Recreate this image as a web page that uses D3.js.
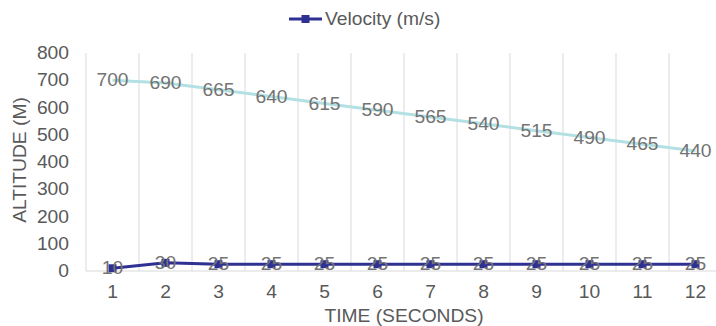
<!DOCTYPE html>
<html>
<head>
<meta charset="utf-8">
<script src="https://cdn.jsdelivr.net/npm/d3@7"></script>
<style>
  html, body { margin: 0; padding: 0; background: #fff; }
  svg { display: block; font-family: "Liberation Sans", Arial, sans-serif; }
</style>
</head>
<body>
<svg id="chart" width="716" height="326"></svg>
<script>
// Flight data: time steps, altitude and velocity readings
const times = [1, 2, 3, 4, 5, 6, 7, 8, 9, 10, 11, 12];
const altitude = [700, 690, 665, 640, 615, 590, 565, 540, 515, 490, 465, 440];
const velocity = [10, 30, 25, 25, 25, 25, 25, 25, 25, 25, 25, 25];
const yTicks = [0, 100, 200, 300, 400, 500, 600, 700, 800];

(function () {
const svg = d3.select("#chart");
const plotLeft = 86, plotRight = 722, plotTop = 53, plotBottom = 271;
const FS = 17.5, SX = 1.1;   // label font size and horizontal stretch

const x = d3.scaleBand().domain(times).range([plotLeft, plotRight]).padding(0);
const y = d3.scaleLinear().domain([0, 800]).range([plotBottom, plotTop]);
const cx = d => x(d) + x.bandwidth() / 2;

// positioned, slightly widened text
function label(sel, px, py, anchor, fill, rot) {
  return sel
    .attr("transform", (d, i) => {
      const tx = typeof px === "function" ? px(d, i) : px;
      const ty = typeof py === "function" ? py(d, i) : py;
      return `translate(${tx},${ty})` + (rot ? ` rotate(${rot})` : "") + ` scale(${SX},1)`;
    })
    .attr("dy", "0.35em")
    .attr("text-anchor", anchor)
    .attr("font-size", FS)
    .attr("fill", fill);
}

// vertical gridlines at category boundaries
const bounds = times.map(t => x(t)).concat([plotRight]);
svg.append("g").selectAll("line").data(bounds).join("line")
  .attr("x1", d => d).attr("x2", d => d)
  .attr("y1", plotTop).attr("y2", plotBottom)
  .attr("stroke", "#d9d9d9").attr("stroke-width", 1);

// x axis baseline
svg.append("line")
  .attr("x1", plotLeft).attr("x2", plotRight).attr("y1", plotBottom).attr("y2", plotBottom)
  .attr("stroke", "#d9d9d9").attr("stroke-width", 1);

// y tick labels
label(svg.append("g").selectAll("text").data(yTicks).join("text"),
  69, d => y(d), "end", "#595959").text(d => d);

// x tick labels
label(svg.append("g").selectAll("text").data(times).join("text"),
  d => cx(d), 292, "middle", "#595959").text(d => d);

// axis titles
label(svg.append("text"), 20, 160, "middle", "#595959", -90).text("ALTITUDE (M)");
label(svg.append("text"), 404, 316, "middle", "#595959").text("TIME (SECONDS)");

const line = d3.line().x((d, i) => cx(times[i])).y(d => y(d));

// altitude series
svg.append("path").datum(altitude)
  .attr("d", line).attr("fill", "none")
  .attr("stroke", "#b3e0e3").attr("stroke-width", 3);

// velocity series
const velColor = "#2e3192";
svg.append("path").datum(velocity)
  .attr("d", line).attr("fill", "none")
  .attr("stroke", velColor).attr("stroke-width", 3);
svg.append("g").selectAll("rect").data(velocity).join("rect")
  .attr("x", (d, i) => cx(times[i]) - 4).attr("y", d => y(d) - 4)
  .attr("width", 8).attr("height", 8).attr("fill", velColor);

// data labels centred on points
label(svg.append("g").selectAll("text").data(altitude).join("text"),
  (d, i) => cx(times[i]), d => y(d), "middle", "#737373").text(d => d);
label(svg.append("g").selectAll("text").data(velocity).join("text"),
  (d, i) => cx(times[i]), d => y(d), "middle", "#737373").text(d => d);

// legend
const lg = svg.append("g");
lg.append("line").attr("x1", 289).attr("x2", 322).attr("y1", 19).attr("y2", 19)
  .attr("stroke", velColor).attr("stroke-width", 3);
lg.append("rect").attr("x", 301.5).attr("y", 15).attr("width", 8).attr("height", 8)
  .attr("fill", velColor);
label(lg.append("text"), 325, 19, "start", "#595959").text("Velocity (m/s)");
})();
</script>
</body>
</html>
